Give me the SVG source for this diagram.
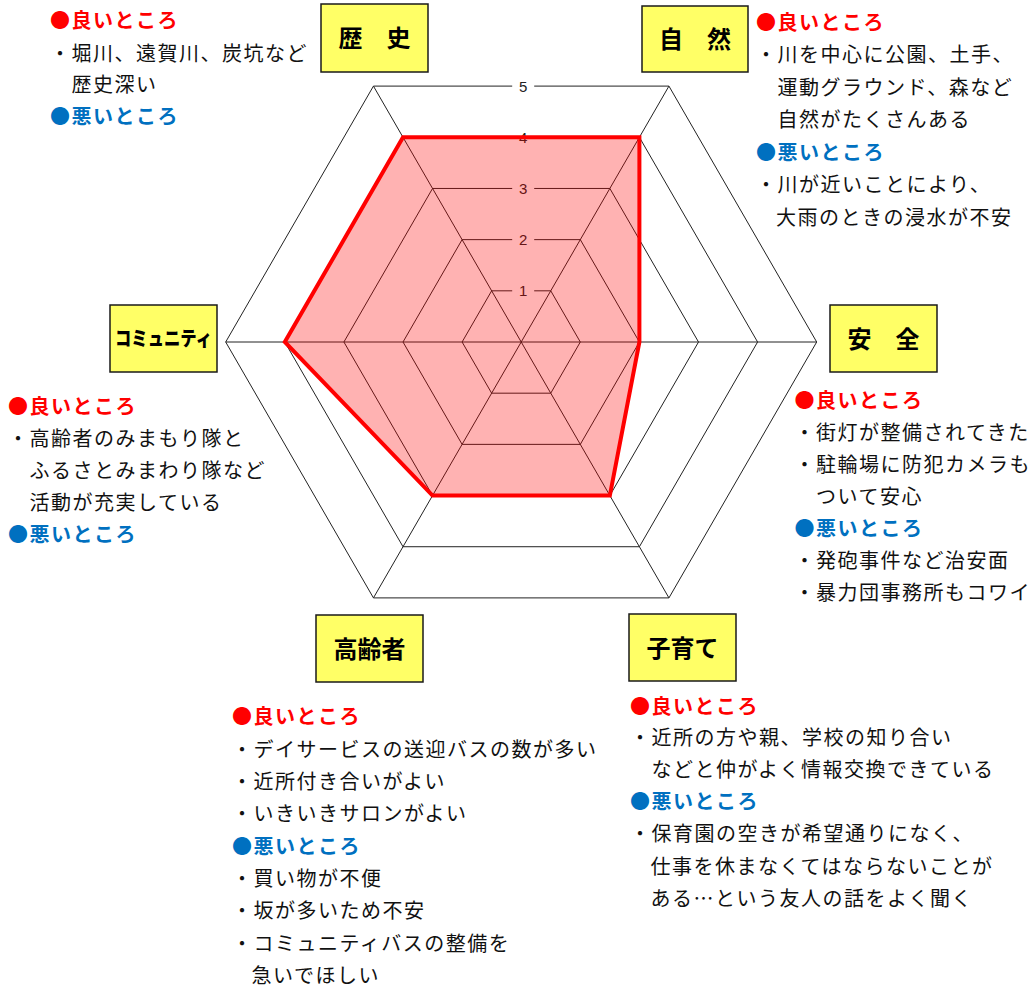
<svg xmlns="http://www.w3.org/2000/svg" width="1033" height="988" viewBox="0 0 1033 988">
<style>
.box{fill:#FFFF66;stroke:#1a1a1a;stroke-width:1.5}
.lbl{font-family:"Noto Sans CJK JP",sans-serif;font-weight:700;font-size:24px;text-anchor:middle;fill:#000}
.lbls{font-size:20px;font-weight:900}
.t{font-family:"Noto Sans CJK JP",sans-serif;font-size:20px;letter-spacing:1.5px;fill:#111}
.good{fill:#FF0000;font-weight:700}
.bad{fill:#0070C0;font-weight:700}
.grid{fill:none;stroke:#222;stroke-width:1}
.scale{font-family:"Liberation Sans",sans-serif;font-size:15px;text-anchor:middle;fill:#222}
.data{fill:rgba(255,0,0,0.3);stroke:#FF0000;stroke-width:4;stroke-linejoin:miter}
</style>
<rect width="1033" height="988" fill="#fff"/>
<g id="radar" transform="translate(521.2,342)">
  <g id="radar-grid">
    <path class="grid" d="M -9,-51.18 H -29.55 L -59.1,0 L -29.55,51.18 H 29.55 L 59.1,0 L 29.55,-51.18 H 13"/>
    <path class="grid" d="M -9,-102.36 H -59.1 L -118.2,0 L -59.1,102.36 H 59.1 L 118.2,0 L 59.1,-102.36 H 13"/>
    <path class="grid" d="M -9,-153.54 H -88.65 L -177.3,0 L -88.65,153.54 H 88.65 L 177.3,0 L 88.65,-153.54 H 13"/>
    <path class="grid" d="M -9,-204.72 H -118.2 L -236.4,0 L -118.2,204.72 H 118.2 L 236.4,0 L 118.2,-204.72 H 13"/>
    <path class="grid" d="M -9,-255.9 H -147.75 L -295.5,0 L -147.75,255.9 H 147.75 L 295.5,0 L 147.75,-255.9 H 13"/>
    <path class="grid" d="M -295.5,0 H 295.5 M -147.75,-255.9 L 147.75,255.9 M 147.75,-255.9 L -147.75,255.9"/>
    <text class="scale" x="2" y="-45.6">1</text>
    <text class="scale" x="2" y="-96.8">2</text>
    <text class="scale" x="2" y="-148">3</text>
    <text class="scale" x="2" y="-199.2">4</text>
    <text class="scale" x="2" y="-250.4">5</text>
  </g>
  <polygon id="radar-data" class="data" points="-118.2,-204.72 118.2,-204.72 118.2,0 88.65,153.54 -88.65,153.54 -236.4,0"/>
</g>

<g id="node-rekishi">
  <rect class="box" x="321" y="4" width="107" height="68"/>
  <text class="lbl" x="374.5" y="47">歴　史</text>
</g>
<g id="node-shizen">
  <rect class="box" x="642" y="6" width="106" height="66"/>
  <text class="lbl" x="695" y="48">自　然</text>
</g>
<g id="node-anzen">
  <rect class="box" x="830" y="305" width="107" height="67"/>
  <text class="lbl" x="883.5" y="347.5">安　全</text>
</g>
<g id="node-community">
  <rect class="box" x="110" y="305" width="107" height="67"/>
  <text class="lbl lbls" x="163.5" y="346" textLength="97" lengthAdjust="spacingAndGlyphs">コミュニティ</text>
</g>
<g id="node-koreisha">
  <rect class="box" x="316" y="615" width="107" height="67"/>
  <text class="lbl" x="369.5" y="657.5">高齢者</text>
</g>
<g id="node-kosodate">
  <rect class="box" x="629" y="614" width="107" height="67"/>
  <text class="lbl" x="682.5" y="656.5">子育て</text>
</g>

<g id="notes-rekishi">
  <text class="t good" x="50" y="27.6">●良いところ</text>
  <text class="t" x="50" y="60.6">・堀川、遠賀川、炭坑など</text>
  <text class="t" x="71.5" y="91.6">歴史深い</text>
  <text class="t bad" x="50" y="123.6">●悪いところ</text>
</g>
<g id="notes-shizen">
  <text class="t good" x="756" y="29.6">●良いところ</text>
  <text class="t" x="756" y="62.1">・川を中心に公園、土手、</text>
  <text class="t" x="777.5" y="94.6">運動グラウンド、森など</text>
  <text class="t" x="777.5" y="127.1">自然がたくさんある</text>
  <text class="t bad" x="756" y="159.6">●悪いところ</text>
  <text class="t" x="756" y="192.1">・川が近いことにより、</text>
  <text class="t" x="776" y="224.6">大雨のときの浸水が不安</text>
</g>
<g id="notes-community">
  <text class="t good" x="8" y="414">●良いところ</text>
  <text class="t" x="8" y="446">・高齢者のみまもり隊と</text>
  <text class="t" x="29.5" y="477.6">ふるさとみまわり隊など</text>
  <text class="t" x="29.5" y="509.6">活動が充実している</text>
  <text class="t bad" x="8" y="542">●悪いところ</text>
</g>
<g id="notes-anzen">
  <text class="t good" x="794.5" y="407.6">●良いところ</text>
  <text class="t" x="794.5" y="439.6">・街灯が整備されてきた</text>
  <text class="t" x="794.5" y="471.6">・駐輪場に防犯カメラも</text>
  <text class="t" x="816" y="503.6">ついて安心</text>
  <text class="t bad" x="794.5" y="535.6">●悪いところ</text>
  <text class="t" x="794.5" y="567.6">・発砲事件など治安面</text>
  <text class="t" x="794.5" y="599.6">・暴力団事務所もコワイ</text>
</g>
<g id="notes-koreisha">
  <text class="t good" x="232" y="724.1">●良いところ</text>
  <text class="t" x="232" y="756.6">・デイサービスの送迎バスの数が多い</text>
  <text class="t" x="232" y="788.6">・近所付き合いがよい</text>
  <text class="t" x="232" y="821.1">・いきいきサロンがよい</text>
  <text class="t bad" x="232" y="853.6">●悪いところ</text>
  <text class="t" x="232" y="885.6">・買い物が不便</text>
  <text class="t" x="232" y="918.1">・坂が多いため不安</text>
  <text class="t" x="232" y="950.6">・コミュニティバスの整備を</text>
  <text class="t" x="251.5" y="982.6">急いでほしい</text>
</g>
<g id="notes-kosodate">
  <text class="t good" x="630" y="713.6">●良いところ</text>
  <text class="t" x="630" y="744.6">・近所の方や親、学校の知り合い</text>
  <text class="t" x="651.5" y="776.6">などと仲がよく情報交換できている</text>
  <text class="t bad" x="630" y="809.1">●悪いところ</text>
  <text class="t" x="630" y="841.1">・保育園の空きが希望通りになく、</text>
  <text class="t" x="650.5" y="873.6">仕事を休まなくてはならないことが</text>
  <text class="t" x="650.5" y="905.6">ある…という友人の話をよく聞く</text>
</g>
</svg>
